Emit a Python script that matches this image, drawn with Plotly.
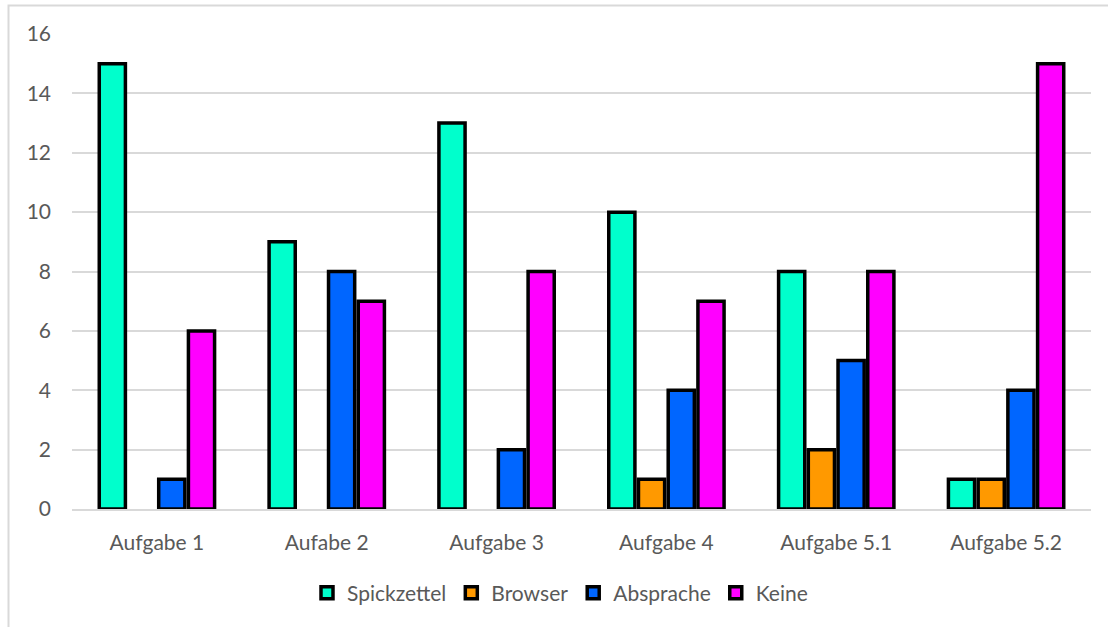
import plotly.graph_objects as go

categories = ["Aufgabe 1", "Aufabe 2", "Aufgabe 3", "Aufgabe 4", "Aufgabe 5.1", "Aufgabe 5.2"]
spickzettel = [15, 9, 13, 10, 8, 1]
browser = [0, 0, 0, 1, 2, 1]
absprache = [1, 8, 2, 4, 5, 4]
keine = [6, 7, 8, 7, 8, 15]

series = [
    ("Spickzettel", spickzettel, "#00FFCC"),
    ("Browser", browser, "#FF9900"),
    ("Absprache", absprache, "#0066FF"),
    ("Keine", keine, "#FF00FF"),
]

FONT = "Lato"
GRAY = "#595959"
FS = 21

fig = go.Figure()
for name, vals, col in series:
    fig.add_trace(go.Bar(
        x=categories, y=[v if v else None for v in vals], name=name,
        marker=dict(color=col, line=dict(color="black", width=3.5)),
    ))

W, H = 1108, 627
ml, mr, mt, mb = 72, 17, 34, 118
pw = W - ml - mr
ph = H - mt - mb

def px(x):
    return (x - ml) / pw

def py(y):
    return (H - mb - y) / ph

fig.update_layout(
    width=W, height=H,
    margin=dict(l=ml, r=mr, t=mt, b=mb),
    paper_bgcolor="white", plot_bgcolor="white",
    barmode="group", bargap=0.3, bargroupgap=0.12,
    font=dict(family=FONT, size=FS, color=GRAY),
    legend=dict(orientation="h", x=px(560), xanchor="center", y=py(593), yanchor="middle",
                font=dict(family=FONT, size=FS, color=GRAY), itemwidth=30,
                traceorder="normal"),
    xaxis=dict(showgrid=False, showline=True, linecolor="#d9d9d9", linewidth=2,
               ticks="", ticklabelstandoff=14,
               tickfont=dict(family=FONT, size=FS, color=GRAY)),
    yaxis=dict(range=[0, 16], dtick=2, showgrid=True, gridcolor="#d9d9d9", gridwidth=2,
               zeroline=False, showline=False, ticks="", ticklabelstandoff=20,
               tickfont=dict(family=FONT, size=FS, color=GRAY)),
    shapes=[dict(type="rect", xref="paper", yref="paper",
                 x0=px(8.5), x1=px(1130), y0=py(650), y1=py(5.5),
                 line=dict(color="#d9d9d9", width=2), fillcolor="rgba(0,0,0,0)",
                 layer="below")],
)

fig.write_html("out.html")
